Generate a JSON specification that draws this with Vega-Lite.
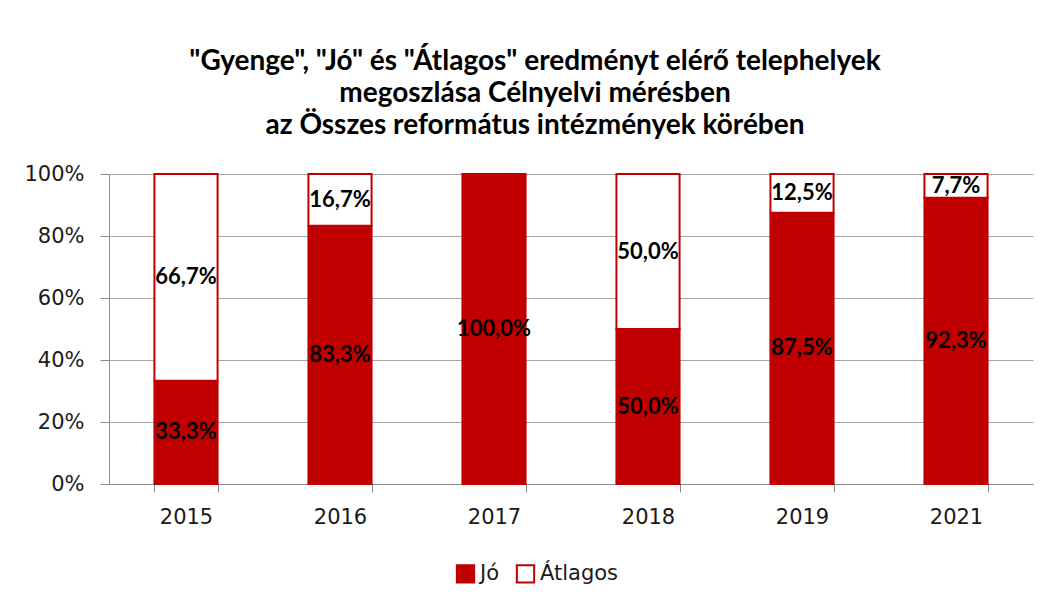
{
  "$schema": "https://vega.github.io/schema/vega-lite/v6.json",
  "width": 924,
  "height": 310,
  "autosize": {"type": "none"},
  "padding": {"left": 109, "top": 174, "right": 16, "bottom": 124},
  "background": "white",
  "config": {
    "locale": {"number": {"decimal": ",", "thousands": " ", "grouping": [3], "currency": ["", " Ft"]}},
    "view": {"stroke": null},
    "font": "Lato"
  },
  "title": {
    "text": ["\"Gyenge\", \"Jó\" és \"Átlagos\" eredményt elérő telephelyek", "megoszlása  Célnyelvi mérésben", "az Összes református intézmények körében"],
    "fontSize": 28,
    "fontWeight": "bold",
    "font": "Lato",
    "lineHeight": 32,
    "anchor": "middle",
    "offset": 23,
    "dx": -36,
    "color": "black"
  },
  "data": {
    "values": [
      {"ev": "2015", "k": "Jó", "v": 0.333},
      {"ev": "2015", "k": "Átlagos", "v": 0.667},
      {"ev": "2016", "k": "Jó", "v": 0.833},
      {"ev": "2016", "k": "Átlagos", "v": 0.167},
      {"ev": "2017", "k": "Jó", "v": 1.0},
      {"ev": "2018", "k": "Jó", "v": 0.5},
      {"ev": "2018", "k": "Átlagos", "v": 0.5},
      {"ev": "2019", "k": "Jó", "v": 0.875},
      {"ev": "2019", "k": "Átlagos", "v": 0.125},
      {"ev": "2021", "k": "Jó", "v": 0.923},
      {"ev": "2021", "k": "Átlagos", "v": 0.077}
    ]
  },
  "encoding": {
    "x": {
      "field": "ev",
      "type": "ordinal",
      "scale": {"paddingInner": 0.59, "paddingOuter": 0.295},
      "axis": {
        "title": null,
        "labelAngle": 0,
        "tickBand": "extent",
        "tickSize": 8,
        "tickColor": "#8c8c8c",
        "domainColor": "#8c8c8c",
        "labelFontSize": 21,
        "labelFont": "DejaVu Sans",
        "labelColor": "#1a1a1a",
        "labelPadding": 14
      }
    }
  },
  "layer": [
    {
      "mark": {"type": "bar", "strokeWidth": 2},
      "encoding": {
        "y": {
          "field": "v",
          "type": "quantitative",
          "stack": "zero",
          "scale": {"domain": [0, 1]},
          "axis": {
            "title": null,
            "format": ".0%",
            "values": [0, 0.2, 0.4, 0.6, 0.8, 1],
            "gridColor": "#a6a6a6",
            "domainColor": "#8c8c8c",
            "tickColor": "#8c8c8c",
            "tickSize": 9,
            "labelFontSize": 21,
            "labelFont": "DejaVu Sans",
            "labelColor": "#1a1a1a",
            "labelPadding": 16
          }
        },
        "fill": {
          "field": "k",
          "type": "nominal",
          "sort": ["Jó", "Átlagos"],
          "scale": {"domain": ["Jó", "Átlagos"], "range": ["#C00000", "#FFFFFF"]},
          "legend": {
            "title": null,
            "orient": "none",
            "legendX": 346,
            "legendY": 389,
            "direction": "horizontal",
            "symbolType": "square",
            "symbolSize": 300,
            "symbolStrokeWidth": 2,
            "labelFontSize": 21,
            "labelFont": "DejaVu Sans",
            "labelColor": "#1a1a1a",
            "columnPadding": 12,
            "labelOffset": 4
          }
        },
        "stroke": {
          "field": "k",
          "type": "nominal",
          "sort": ["Jó", "Átlagos"],
          "scale": {"domain": ["Jó", "Átlagos"], "range": ["#C00000", "#C00000"]},
          "legend": null
        },
        "order": {"field": "k", "sort": "ascending"}
      }
    },
    {
      "transform": [
        {"stack": "v", "groupby": ["ev"], "sort": [{"field": "k", "order": "ascending"}], "as": ["y0", "y1"]},
        {"calculate": "(datum.y0 + datum.y1) / 2", "as": "mid"}
      ],
      "mark": {"type": "text", "fontSize": 22, "fontWeight": "bold", "font": "Lato", "color": "black", "baseline": "middle"},
      "encoding": {
        "y": {"field": "mid", "type": "quantitative"},
        "text": {"field": "v", "type": "quantitative", "format": ".1%"}
      }
    }
  ]
}
